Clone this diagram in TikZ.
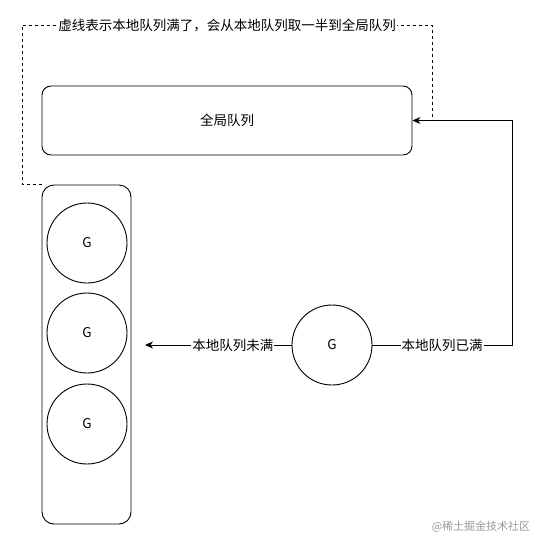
\documentclass[tikz,border=0pt]{standalone}
\usepackage{fontspec}
\setmainfont{Noto Sans CJK SC}
\usetikzlibrary{arrows.meta,positioning}

\begin{document}
\begin{tikzpicture}[x=1pt,y=-1pt,line width=0.9pt,font=\fontsize{13.5}{16}\selectfont,
  queuebox/.style={draw,rounded corners=9pt,inner sep=0pt},
  gnode/.style={draw,circle,minimum size=80pt,inner sep=0pt},
  lbl/.style={fill=white,inner sep=1pt},
  arr/.style={-{Stealth[length=8pt,width=7pt,inset=2.5pt]}},
  dashline/.style={dash pattern=on 3pt off 3pt,line width=0.7pt}]
\useasboundingbox (0,0) rectangle (536,541);
% queues
\node[queuebox,minimum width=370pt,minimum height=69pt] (global) at (227,120.5) {全局队列};
\node[queuebox,rounded corners=12pt,minimum width=89pt,minimum height=339pt] (local) at (86.5,354.5) {};
\node[gnode] (g1) at (87,243) {G};
\node[gnode] (g2) at (87,333) {G};
\node[gnode] (g3) at (87,424) {G};
% new goroutine
\node[gnode] (g) at (332,345) {G};
\coordinate (tail) at (145,345);
\coordinate (turn) at (512,345);
\draw[arr] (g.west) -- node[lbl,pos=0.4] {本地队列未满} (tail);
\draw[arr] (g.east) -- node[lbl] {本地队列已满} (turn) |- (global.east);
% dashed note
\coordinate (d1) at (22,25);
\coordinate (d2) at (432,25);
\coordinate (d3) at (432,120.5);
\draw[dashline] (local.north west) -| (d1) -- node[lbl] {虚线表示本地队列满了，会从本地队列取一半到全局队列} (d2) -- (d3);
\node[text=black!40,font=\fontsize{11}{13}\selectfont] (mark) at (481,527) {@稀土掘金技术社区};
\end{tikzpicture}
\end{document}
